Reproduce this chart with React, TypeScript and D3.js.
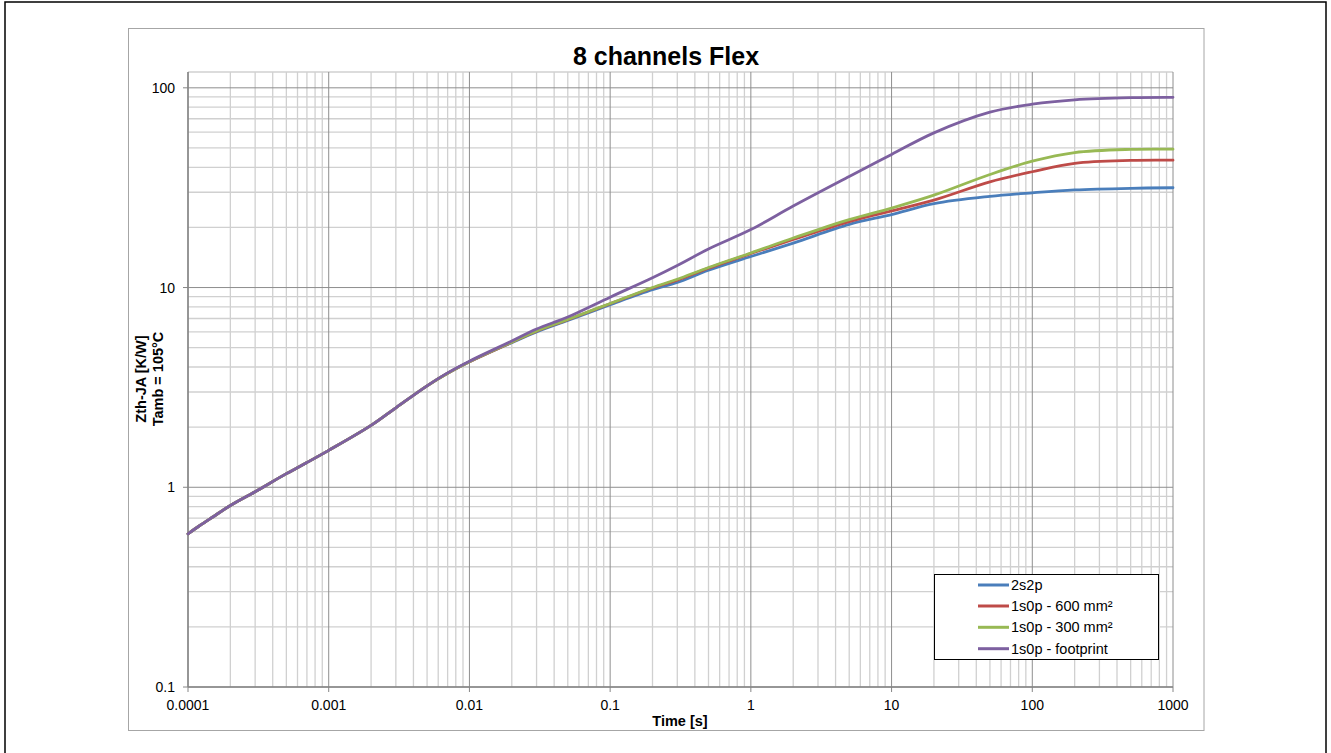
import React from "react";
import * as d3 from "d3";

const times = [1e-4, 1.2e-4, 1.5e-4, 2e-4, 3e-4, 5e-4, 7e-4, 1e-3, 2e-3, 3e-3, 5e-3, 7e-3, 1e-2, 2e-2, 3e-2, 5e-2, 0.1, 0.2, 0.3, 0.5, 1, 2, 5, 10, 20, 50, 100, 200, 500, 1000];

const s2s2p = [0.585, 0.64, 0.71, 0.81, 0.95, 1.17, 1.33, 1.53, 2.04, 2.5, 3.22, 3.72, 4.25, 5.3, 6.0, 6.85, 8.2, 9.75, 10.6, 12.2, 14.3, 16.7, 20.7, 23.2, 26.3, 28.6, 29.8, 30.8, 31.4, 31.6];
const s1s0p600 = [0.585, 0.64, 0.71, 0.81, 0.95, 1.17, 1.33, 1.53, 2.04, 2.5, 3.22, 3.72, 4.25, 5.32, 6.05, 6.9, 8.3, 9.95, 10.9, 12.5, 14.8, 17.4, 21.4, 24.2, 27.4, 33.8, 38.0, 41.9, 43.3, 43.4];
const s1s0p300 = [0.585, 0.64, 0.71, 0.81, 0.95, 1.17, 1.33, 1.53, 2.04, 2.5, 3.22, 3.72, 4.25, 5.33, 6.07, 6.92, 8.32, 10.0, 11.0, 12.6, 14.9, 17.7, 21.9, 25.0, 29.0, 36.8, 42.9, 47.4, 49.2, 49.3];
const s1s0pFoot = [0.585, 0.64, 0.71, 0.81, 0.95, 1.17, 1.33, 1.53, 2.04, 2.5, 3.22, 3.74, 4.28, 5.4, 6.2, 7.12, 8.95, 11.2, 12.9, 15.6, 19.5, 25.6, 36.0, 46.4, 59.5, 75.5, 82.8, 87.1, 89.3, 89.6];

const seriesNames = ["2s2p", "1s0p - 600 mm²", "1s0p - 300 mm²", "1s0p - footprint"];
const seriesValues = [s2s2p, s1s0p600, s1s0p300, s1s0pFoot];
const seriesColors = ["#4a7ebb", "#be4b48", "#98b954", "#7d60a0"];

const xTickValues = [1e-4, 1e-3, 1e-2, 0.1, 1, 10, 100, 1000];
const xTickLabels = ["0.0001", "0.001", "0.01", "0.1", "1", "10", "100", "1000"];
const yTickValues = [0.1, 1, 10, 100];
const yTickLabels = ["0.1", "1", "10", "100"];

const title = "8 channels Flex";
const xTitle = "Time [s]";
const yTitle1 = "Zth-JA [K/W]";
const yTitle2 = "Tamb = 105°C";

const W = 1331, H = 753;
const L = 188, R = 1173, T = 72, B = 687;
const FONT = "'Liberation Sans', Arial, sans-serif";

export default function App() {
  const x = d3.scaleLog().domain([1e-4, 1000]).range([L, R]);
  const y = d3.scaleLog().domain([0.1, 120]).range([B, T]);

  const xMinor: number[] = [];
  for (let e = -4; e < 3; e++) for (let m = 2; m <= 9; m++) xMinor.push(m * Math.pow(10, e));
  const yMinor: number[] = [];
  for (let e = -1; e < 2; e++) for (let m = 2; m <= 9; m++) yMinor.push(m * Math.pow(10, e));

  const line = d3
    .line<number>()
    .x((_, i) => x(times[i]))
    .y((v) => y(v))
    .curve(d3.curveCatmullRom.alpha(0.5));

  const legendX = 934, legendY = 574, legendW = 224, legendH = 85;
  const rowYs = [585, 606, 627.3, 648.7];

  return (
    <svg width={W} height={H} style={{ position: "absolute", left: 0, top: 0, background: "#fff" }} fontFamily={FONT}>
      <rect x={0} y={0} width={W} height={H} fill="#fff" />
      <rect x={5} y={2} width={1321} height={770} fill="none" stroke="#000" strokeWidth={1.5} />
      <rect x={128.5} y={28.5} width={1075.5} height={702} fill="none" stroke="#a6a6a6" strokeWidth={1} />

      {/* minor grid */}
      <g stroke="#d0d0d0" strokeWidth={1.3}>
        {xMinor.map((v, i) => (
          <line key={"xm" + i} x1={x(v)} x2={x(v)} y1={T} y2={B} />
        ))}
        {yMinor.map((v, i) => (
          <line key={"ym" + i} x1={L} x2={R} y1={y(v)} y2={y(v)} />
        ))}
        <line x1={L} x2={R} y1={T} y2={T} />
      </g>
      {/* major grid */}
      <g stroke="#8e8e8e" strokeWidth={1}>
        {xTickValues.map((v, i) => (
          <line key={"xM" + i} x1={x(v)} x2={x(v)} y1={T} y2={B} />
        ))}
        {yTickValues.map((v, i) => (
          <line key={"yM" + i} x1={L} x2={R} y1={y(v)} y2={y(v)} />
        ))}
      </g>
      {/* axes */}
      <g stroke="#868686" strokeWidth={1.5}>
        <line x1={L} x2={L} y1={T} y2={B} />
        <line x1={L} x2={R} y1={B} y2={B} />
        {xTickValues.map((v, i) => (
          <line key={"xt" + i} x1={x(v)} x2={x(v)} y1={B} y2={B + 5} strokeWidth={1} />
        ))}
        {yTickValues.map((v, i) => (
          <line key={"yt" + i} x1={L - 5} x2={L} y1={y(v)} y2={y(v)} strokeWidth={1} />
        ))}
      </g>

      {/* tick labels */}
      <g fontSize={14} fill="#000">
        {xTickValues.map((v, i) => (
          <text key={"xl" + i} x={x(v)} y={710} textAnchor="middle">
            {xTickLabels[i]}
          </text>
        ))}
        {yTickValues.map((v, i) => (
          <text key={"yl" + i} x={175} y={y(v) + 5} textAnchor="end">
            {yTickLabels[i]}
          </text>
        ))}
      </g>

      {/* series */}
      <g fill="none" strokeWidth={2.8} strokeLinejoin="round" strokeLinecap="round">
        {seriesValues.map((vals, i) => (
          <path key={"s" + i} d={line(vals) || ""} stroke={seriesColors[i]} />
        ))}
      </g>

      {/* titles */}
      <text x={666} y={65} textAnchor="middle" fontSize={25} fontWeight="bold">
        {title}
      </text>
      <text x={680} y={726} textAnchor="middle" fontSize={14.5} fontWeight="bold">
        {xTitle}
      </text>
      <g transform="translate(146,379) rotate(-90)">
        <text x={0} y={0} textAnchor="middle" fontSize={14.5} fontWeight="bold">
          {yTitle1}
        </text>
        <text x={0} y={17} textAnchor="middle" fontSize={14.5} fontWeight="bold">
          {yTitle2}
        </text>
      </g>

      {/* legend */}
      <rect x={legendX + 0.5} y={legendY + 0.5} width={legendW} height={legendH} fill="#fff" stroke="#000" strokeWidth={1} />
      {seriesNames.map((n, i) => (
        <g key={"lg" + i}>
          <line x1={978} x2={1009} y1={rowYs[i]} y2={rowYs[i]} stroke={seriesColors[i]} strokeWidth={3} />
          <text x={1011} y={rowYs[i] + 5} fontSize={14.5}>
            {n}
          </text>
        </g>
      ))}
    </svg>
  );
}
